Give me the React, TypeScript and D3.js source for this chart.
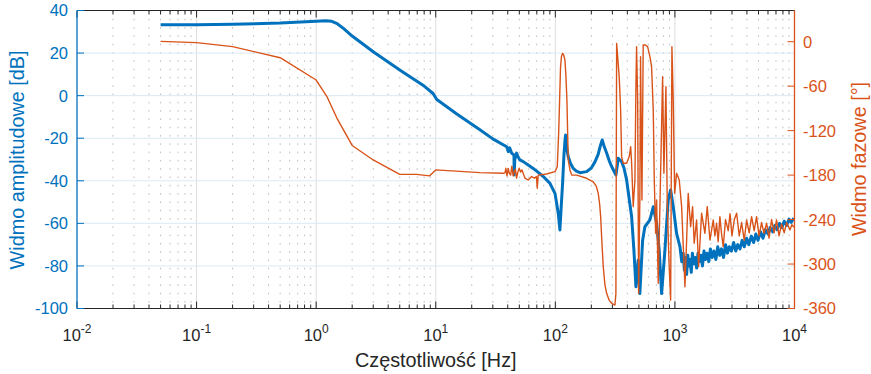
import { useEffect, useRef } from "react";
import * as d3 from "d3";

// magnitude spectrum (left axis, dB)
const MAG_FREQ = [
  0.05, 0.1, 0.2, 0.5, 1.0, 1.2, 1.35, 1.5, 1.7, 2.0, 3.0, 5.0, 8.0, 9.5, 10.2, 15, 23.4, 30,
  39.2, 40.4, 41.5, 43.1, 45.1, 45.3, 45.8, 47.4, 48.5, 50.5, 53.9, 59.3, 65.3, 70.6,
  79.3, 90.2, 99.3, 105.8, 109.2, 112, 115, 118, 120.5, 121.9, 123.5, 125.5, 128.2, 134, 141.2, 150, 160.6,
  182.7, 200, 215, 228.5, 238, 246.7, 255, 268.5, 282, 295.6, 321.3, 335.8, 358.4, 375, 394.6,
  434.5, 454, 472, 493, 509, 537, 561, 618, 659, 703, 739, 774, 825, 879, 921, 968, 1033, 1102,
  1140, 1173, 1200, 1230, 1253, 1280, 1310, 1335, 1370, 1400, 1440, 1480, 1520, 1560,
  1600, 1650, 1700, 1750, 1800, 1860, 1920, 1980, 2050, 2120, 2200, 2280, 2370, 2450,
  2550, 2650, 2750, 2850, 2970, 3100, 3230, 3350, 3500, 3650, 3800, 3980, 4150, 4350,
  4550, 4750, 4950, 5200, 5450, 5700, 6000, 6250, 6550, 6850, 7150, 7500, 7850, 8200,
  8600, 9000, 9400, 9890,
];
const MAG_DB = [
  33.3, 33.3, 33.5, 34.1, 35.0, 35.2, 34.9, 33.8, 31.5, 28.0, 20.6, 12.0, 4.5, 1.0, -1.8, -8.6, -16.0, -20.3,
  -24.0, -26.3, -24.5, -27.0, -27.9, -37.3, -30.0, -27.0, -28.5, -30.2, -31.0, -32.6, -34.2, -35.7,
  -38.0, -41.2, -45.9, -55.3, -63.1, -52.0, -41.2, -28.0, -21.0, -18.5, -22.0, -25.8, -28.7, -31.8, -34.2, -35.5, -36.2,
  -35.7, -34.0, -31.0, -27.5, -23.5, -20.8, -23.5, -27.0, -30.5, -33.3, -37.3, -29.4, -31.0, -34.0, -39.6,
  -56.9, -72.6, -89.8, -77.3, -93.0, -67.9, -61.6, -58.4, -52.2, -60.0, -72.6, -93.0, -72.6, -49.0, -44.3, -52.2, -64.7, -71.0,
  -78, -74, -82, -76, -84, -75, -80, -77, -83, -74, -79, -76, -81, -74,
  -78, -75, -80, -73, -77, -74, -78, -72, -76, -73, -77, -71, -75, -72,
  -76, -70, -74, -71, -73, -69, -73, -70, -72, -68, -71, -67, -70, -66,
  -69, -65, -68, -64, -67, -63, -65, -62, -64, -61, -63, -60, -62, -59,
  -61, -58, -59.5, -57.5,
];

// phase spectrum (right axis, degrees)
const PHASE_FREQ = [
  0.05, 0.1, 0.2, 0.5, 1.0, 1.23, 1.49, 2.0, 3.0, 5.0, 6.9, 8.9, 10, 23.4, 36.7, 37.9,
  38.6, 39.4, 40.4, 41.3, 42.3, 43.3, 44.4, 45.5, 46.4, 47.4, 48.6, 49.9, 51.2, 52.6,
  55.7, 59.3, 63.4, 66.9, 69.5, 70.6, 71.9, 84.6, 99.3, 103.8,
  106.6, 108.6, 110.5, 112.5, 115, 117.5, 120.3, 122.5, 125, 128.2, 132.5, 137,
  150.8, 182.7, 207.6, 220, 228.5, 235, 239.3, 245, 251.6, 260, 268.5, 282, 295.6, 315, 321,
  325.6, 342, 351.6, 358.4, 369.6, 394.6, 415, 426.6, 434.5, 448, 463, 472, 478,
  488, 497, 509, 516, 530, 543, 567, 591, 618, 638, 659, 672, 690, 703, 725, 749, 789, 809,
  841, 862, 891, 921, 944, 968, 995, 1033, 1087, 1138, 1213, 1253, 1292, 1353, 1406, 1449,
  1518, 1578, 1672, 1782, 1863, 1963, 2091, 2160, 2230, 2300, 2377, 2450, 2534, 2650,
  2790, 2890, 2998, 3140, 3283, 3450, 3612, 3800, 3975, 4180, 4376, 4600, 4818, 5050,
  5306, 5560, 5845, 6130, 6431, 6750, 7080, 7430, 7796, 8200, 8590, 9160, 9500, 9890,
];
const PHASE_DEG = [
  0.5, -1.3, -6.7, -21.6, -51.7, -74, -103, -140, -159.6, -179, -179, -181, -173, -176.7, -177.6, -177,
  -170.8, -181, -171, -178, -180, -168, -181, -175, -172, -184, -176, -170.8, -176, -173,
  -184, -186.6, -182, -184, -182, -197.8, -180, -178.5, -175.4, -168.7,
  -123.6, -78.7, -35, -20, -15.7, -18, -24.7, -45, -78.7, -159.6, -173, -180,
  -180, -184.3, -189, -195, -204.6, -220, -236, -270, -303.6, -328, -339.5, -349, -353, -355.3, -340,
  -2.2, -47, -92, -155, -164, -164, -155, -141.7, -164, -222.6, -186.6, -60.7, -6.7,
  -78.7, -339.5, -213.6, -20.2, -213.6, -4.5, -4.5, -6.7, -20.2, -33.7, -92, -186.6, -258.5, -213.6, -326, -222.6, -47.2, -177.6,
  -60.7, -213.6, -294.6, -348.5, -6.7, -78.7, -204.6, -177.6, -186.6, -222.6, -330.6, -267.6, -204.6, -249.6, -222.6, -272,
  -240.6, -303.6, -231.5, -258.5, -222.6, -267.6, -240.6, -262, -245, -270, -236, -258, -276.6, -240,
  -255, -232, -262, -240, -231.5, -262, -244, -268, -240.6, -258, -236, -255, -236, -262,
  -244, -258.5, -245, -265, -240, -258, -240.6, -262, -246, -258, -244, -254, -247, -250,
];

const X_TICKS = [0.01, 0.1, 1, 10, 100, 1000, 10000];
const X_EXPONENTS = ["-2", "-1", "0", "1", "2", "3", "4"];
const LEFT_TICKS = [40, 20, 0, -20, -40, -60, -80, -100];
const RIGHT_TICKS = [0, -60, -120, -180, -240, -300, -360];

const BLUE = "#0072BD";
const ORANGE = "#D95319";
const INK = "#262626";
const FONT = "'Liberation Sans', Arial, Helvetica, sans-serif";

export default function App() {
  const svgRef = useRef<SVGSVGElement>(null);

  useEffect(() => {
    document.body.style.margin = "0";
    if (!svgRef.current) return;
    const svg = d3.select(svgRef.current);
    svg.selectAll("*").remove();

    const W = 871;
    const H = 374;
    const left = 77;
    const right = 794.5;
    const top = 10.5;
    const bottom = 308.5;

    svg.attr("width", W).attr("height", H).attr("viewBox", `0 0 ${W} ${H}`);

    const x = d3.scaleLog().domain([0.01, 10000]).range([left, right]);
    const yL = d3.scaleLinear().domain([-100, 40]).range([bottom, top]);
    const yR = d3.scaleLinear().domain([-360, 42.1]).range([bottom, top]);

    const minor: number[] = [];
    for (let e = -2; e < 4; e++) {
      for (let m = 2; m <= 9; m++) minor.push(m * Math.pow(10, e));
    }

    // grid
    const grid = svg.append("g");
    grid
      .selectAll(".minor")
      .data(minor)
      .join("line")
      .attr("x1", (d) => x(d))
      .attr("x2", (d) => x(d))
      .attr("y1", top)
      .attr("y2", bottom)
      .attr("stroke", "#bdbdbd")
      .attr("stroke-width", 1)
      .attr("stroke-dasharray", "1.6 6.7");
    grid
      .selectAll(".majorx")
      .data(X_TICKS.slice(1, -1))
      .join("line")
      .attr("x1", (d) => x(d))
      .attr("x2", (d) => x(d))
      .attr("y1", top)
      .attr("y2", bottom)
      .attr("stroke", "#dedede")
      .attr("stroke-width", 1);
    grid
      .selectAll(".majory")
      .data(LEFT_TICKS.slice(1, -1))
      .join("line")
      .attr("x1", left)
      .attr("x2", right)
      .attr("y1", (d) => yL(d))
      .attr("y2", (d) => yL(d))
      .attr("stroke", "#d9eaf5")
      .attr("stroke-width", 1);

    // curves, clipped to the plot box
    svg
      .append("defs")
      .append("clipPath")
      .attr("id", "plot-clip")
      .append("rect")
      .attr("x", left)
      .attr("y", top)
      .attr("width", right - left)
      .attr("height", bottom - top);

    const magLine = d3
      .line<number>()
      .x((_, i) => x(MAG_FREQ[i]))
      .y((d) => yL(d));
    const phaseLine = d3
      .line<number>()
      .x((_, i) => x(PHASE_FREQ[i]))
      .y((d) => yR(d));

    const curves = svg.append("g").attr("clip-path", "url(#plot-clip)");
    curves
      .append("path")
      .attr("d", magLine(MAG_DB))
      .attr("fill", "none")
      .attr("stroke", BLUE)
      .attr("stroke-width", 3)
      .attr("stroke-linejoin", "round");
    curves
      .append("path")
      .attr("d", phaseLine(PHASE_DEG))
      .attr("fill", "none")
      .attr("stroke", ORANGE)
      .attr("stroke-width", 1.4)
      .attr("stroke-linejoin", "round");

    // x axes (top and bottom) with inward ticks
    const axes = svg.append("g");
    for (const [yPos, dir] of [
      [bottom, -1],
      [top, 1],
    ] as const) {
      axes
        .append("line")
        .attr("x1", left)
        .attr("x2", right)
        .attr("y1", yPos)
        .attr("y2", yPos)
        .attr("stroke", INK)
        .attr("stroke-width", 1.2);
      axes
        .selectAll(null)
        .data(X_TICKS)
        .join("line")
        .attr("x1", (d) => x(d))
        .attr("x2", (d) => x(d))
        .attr("y1", yPos)
        .attr("y2", yPos + dir * 7)
        .attr("stroke", INK);
      axes
        .selectAll(null)
        .data(minor)
        .join("line")
        .attr("x1", (d) => x(d))
        .attr("x2", (d) => x(d))
        .attr("y1", yPos)
        .attr("y2", yPos + dir * 4)
        .attr("stroke", INK);
    }

    const xLabels = axes
      .selectAll(null)
      .data(X_TICKS)
      .join("text")
      .attr("x", (d) => x(d))
      .attr("y", 340.5)
      .attr("text-anchor", "middle")
      .attr("fill", INK)
      .style("font-family", FONT)
      .style("font-size", "16.5px");
    xLabels.append("tspan").text("10");
    xLabels
      .append("tspan")
      .attr("dy", -8)
      .style("font-size", "12px")
      .text((_, i) => X_EXPONENTS[i]);

    // left axis
    axes
      .append("line")
      .attr("x1", left)
      .attr("x2", left)
      .attr("y1", top)
      .attr("y2", bottom)
      .attr("stroke", BLUE)
      .attr("stroke-width", 1.3);
    axes
      .selectAll(null)
      .data(LEFT_TICKS)
      .join("line")
      .attr("x1", left)
      .attr("x2", left + 7)
      .attr("y1", (d) => yL(d))
      .attr("y2", (d) => yL(d))
      .attr("stroke", BLUE);
    axes
      .selectAll(null)
      .data(LEFT_TICKS)
      .join("text")
      .attr("x", left - 9)
      .attr("y", (d) => yL(d))
      .attr("dy", "0.36em")
      .attr("text-anchor", "end")
      .attr("fill", BLUE)
      .style("font-family", FONT)
      .style("font-size", "16.5px")
      .text((d) => String(d));

    // right axis
    axes
      .append("line")
      .attr("x1", right)
      .attr("x2", right)
      .attr("y1", top)
      .attr("y2", bottom)
      .attr("stroke", ORANGE)
      .attr("stroke-width", 1.3);
    axes
      .selectAll(null)
      .data(RIGHT_TICKS)
      .join("line")
      .attr("x1", right)
      .attr("x2", right - 7)
      .attr("y1", (d) => yR(d))
      .attr("y2", (d) => yR(d))
      .attr("stroke", ORANGE);
    axes
      .selectAll(null)
      .data(RIGHT_TICKS)
      .join("text")
      .attr("x", right + 8.5)
      .attr("y", (d) => yR(d))
      .attr("dy", "0.36em")
      .attr("text-anchor", "start")
      .attr("fill", ORANGE)
      .style("font-family", FONT)
      .style("font-size", "16.5px")
      .text((d) => String(d));

    // axis titles
    svg
      .append("text")
      .attr("x", (left + right) / 2)
      .attr("y", 367)
      .attr("text-anchor", "middle")
      .attr("fill", INK)
      .style("font-family", FONT)
      .style("font-size", "19.8px")
      .text("Częstotliwość [Hz]");
    svg
      .append("text")
      .attr("transform", `translate(23.5,160) rotate(-90)`)
      .attr("text-anchor", "middle")
      .attr("fill", BLUE)
      .style("font-family", FONT)
      .style("font-size", "19.8px")
      .text("Widmo amplitudowe [dB]");
    svg
      .append("text")
      .attr("transform", `translate(866,159) rotate(-90)`)
      .attr("text-anchor", "middle")
      .attr("fill", ORANGE)
      .style("font-family", FONT)
      .style("font-size", "19.8px")
      .text("Widmo fazowe [°]");
  }, []);

  return <svg ref={svgRef} style={{ display: "block" }} />;
}
